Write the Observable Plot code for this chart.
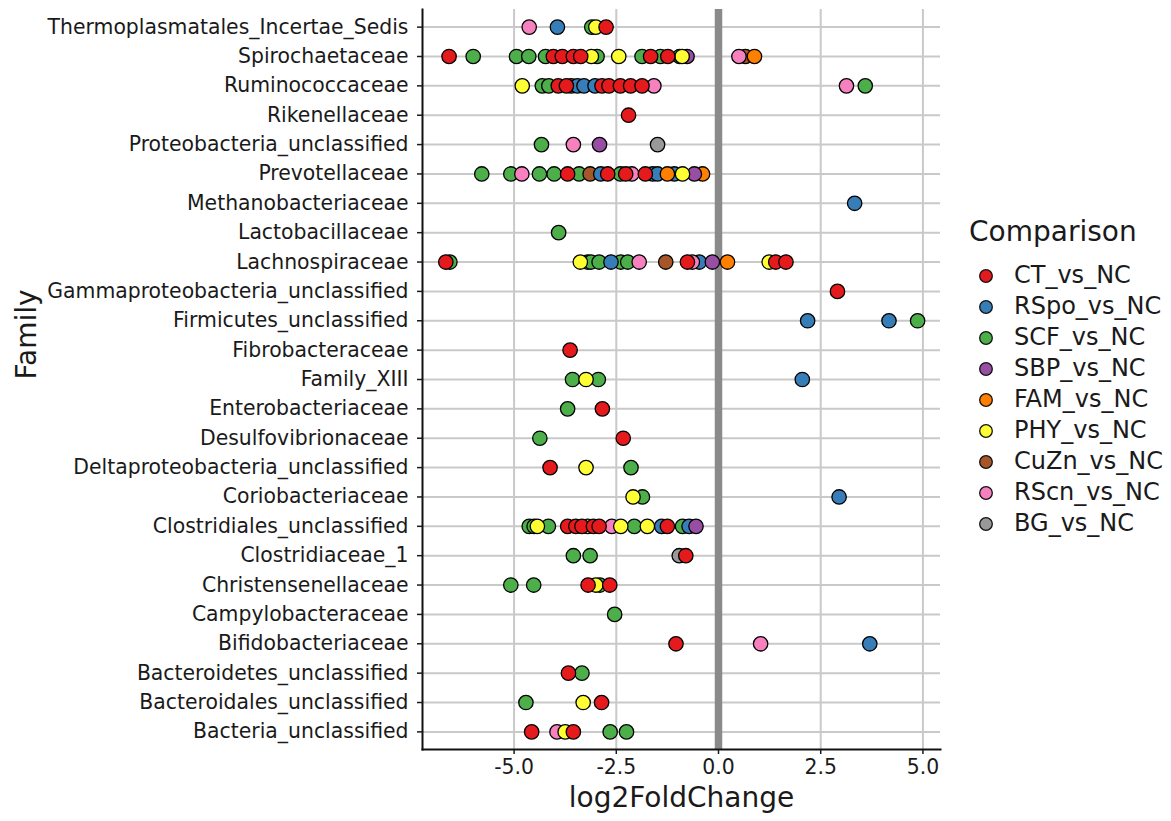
<!DOCTYPE html>
<html>
<head>
<meta charset="utf-8">
<script src="https://cdn.jsdelivr.net/npm/d3@7"></script>
<script src="https://cdn.jsdelivr.net/npm/@observablehq/plot@0.6"></script>
<style>
  body { margin: 0; background: white; font-family: "DejaVu Sans", sans-serif; }
  #wrap { position: relative; width: 1171px; height: 821px; overflow: hidden; }
  #chart { position: absolute; left: 0; top: 0; }
  #legend { position: absolute; left: 969px; top: 214px; color: #1a1a1a; }
  #legend .title { font-size: 28px; line-height: 36px; height: 36px; }
  #legend .item { position: absolute; left: 0; height: 31px; line-height: 31px; font-size: 24px; white-space: nowrap; }
  #legend .item svg { position: absolute; left: 9px; top: 8px; }
  #legend .item span { position: absolute; left: 45px; top: 0; }
</style>
</head>
<body>
<div id="wrap">
  <div id="chart"></div>
  <div id="legend"></div>
</div>
<script>
// Families (top to bottom)
const families = [
  "Thermoplasmatales_Incertae_Sedis", "Spirochaetaceae", "Ruminococcaceae", "Rikenellaceae",
  "Proteobacteria_unclassified", "Prevotellaceae", "Methanobacteriaceae", "Lactobacillaceae",
  "Lachnospiraceae", "Gammaproteobacteria_unclassified", "Firmicutes_unclassified", "Fibrobacteraceae",
  "Family_XIII", "Enterobacteriaceae", "Desulfovibrionaceae", "Deltaproteobacteria_unclassified",
  "Coriobacteriaceae", "Clostridiales_unclassified", "Clostridiaceae_1", "Christensenellaceae",
  "Campylobacteraceae", "Bifidobacteriaceae", "Bacteroidetes_unclassified", "Bacteroidales_unclassified",
  "Bacteria_unclassified"
];
const comparisons = ["CT_vs_NC", "RSpo_vs_NC", "SCF_vs_NC", "SBP_vs_NC", "FAM_vs_NC", "PHY_vs_NC", "CuZn_vs_NC", "RScn_vs_NC", "BG_vs_NC"];
const colors = ["#E41A1C", "#377EB8", "#4DAF4A", "#984EA3", "#FF7F00", "#FFFF33", "#A65628", "#F781BF", "#999999"];
const xTicks = [-5, -2.5, 0, 2.5, 5];
const xDomain = [-7.24, 5.43];

// log2FoldChange values per comparison: [family, value]
const SCF = [
  ["Thermoplasmatales_Incertae_Sedis", -3.1],
  ["Spirochaetaceae", -6.0], ["Spirochaetaceae", -4.94], ["Spirochaetaceae", -4.64], ["Spirochaetaceae", -4.23],
  ["Spirochaetaceae", -2.97], ["Spirochaetaceae", -1.87], ["Spirochaetaceae", -1.42], ["Spirochaetaceae", -0.95],
  ["Ruminococcaceae", -4.31], ["Ruminococcaceae", -4.15], ["Ruminococcaceae", 3.59],
  ["Proteobacteria_unclassified", -4.33],
  ["Prevotellaceae", -5.79], ["Prevotellaceae", -5.08], ["Prevotellaceae", -4.38], ["Prevotellaceae", -4.02],
  ["Prevotellaceae", -3.41], ["Prevotellaceae", -2.4],
  ["Lactobacillaceae", -3.91],
  ["Lachnospiraceae", -6.57], ["Lachnospiraceae", -3.2], ["Lachnospiraceae", -3.12], ["Lachnospiraceae", -2.92],
  ["Lachnospiraceae", -2.39], ["Lachnospiraceae", -2.22],
  ["Firmicutes_unclassified", 4.87],
  ["Family_XIII", -3.57], ["Family_XIII", -2.94],
  ["Enterobacteriaceae", -3.69],
  ["Desulfovibrionaceae", -4.37],
  ["Deltaproteobacteria_unclassified", -2.14],
  ["Coriobacteriaceae", -1.86],
  ["Clostridiales_unclassified", -4.63], ["Clostridiales_unclassified", -4.51], ["Clostridiales_unclassified", -4.16],
  ["Clostridiales_unclassified", -2.06], ["Clostridiales_unclassified", -0.88],
  ["Clostridiaceae_1", -3.55], ["Clostridiaceae_1", -3.14],
  ["Christensenellaceae", -5.08], ["Christensenellaceae", -4.52], ["Christensenellaceae", -2.9],
  ["Campylobacteraceae", -2.54],
  ["Bacteroidetes_unclassified", -3.34],
  ["Bacteroidales_unclassified", -4.71],
  ["Bacteria_unclassified", -2.65], ["Bacteria_unclassified", -2.25]
];
const CT = [
  ["Thermoplasmatales_Incertae_Sedis", -2.75],
  ["Spirochaetaceae", -6.59], ["Spirochaetaceae", -4.04], ["Spirochaetaceae", -3.82], ["Spirochaetaceae", -3.55],
  ["Spirochaetaceae", -3.37], ["Spirochaetaceae", -1.66], ["Spirochaetaceae", -1.24],
  ["Ruminococcaceae", -3.92], ["Ruminococcaceae", -3.72], ["Ruminococcaceae", -2.85], ["Ruminococcaceae", -2.68],
  ["Ruminococcaceae", -2.4], ["Ruminococcaceae", -2.15], ["Ruminococcaceae", -1.87],
  ["Rikenellaceae", -2.2],
  ["Prevotellaceae", -3.69], ["Prevotellaceae", -2.71], ["Prevotellaceae", -2.27], ["Prevotellaceae", -1.79],
  ["Lachnospiraceae", -6.67], ["Lachnospiraceae", -0.76], ["Lachnospiraceae", 1.4], ["Lachnospiraceae", 1.65],
  ["Gammaproteobacteria_unclassified", 2.91],
  ["Fibrobacteraceae", -3.63],
  ["Enterobacteriaceae", -2.84],
  ["Desulfovibrionaceae", -2.33],
  ["Deltaproteobacteria_unclassified", -4.12],
  ["Clostridiales_unclassified", -3.69], ["Clostridiales_unclassified", -3.49], ["Clostridiales_unclassified", -3.34],
  ["Clostridiales_unclassified", -3.06], ["Clostridiales_unclassified", -2.92], ["Clostridiales_unclassified", -1.25],
  ["Clostridiaceae_1", -0.8],
  ["Christensenellaceae", -3.19], ["Christensenellaceae", -2.66],
  ["Bifidobacteriaceae", -1.04],
  ["Bacteroidetes_unclassified", -3.67],
  ["Bacteroidales_unclassified", -2.86],
  ["Bacteria_unclassified", -4.57], ["Bacteria_unclassified", -3.55]
];
const RSpo = [
  ["Thermoplasmatales_Incertae_Sedis", -3.94],
  ["Ruminococcaceae", -3.45], ["Ruminococcaceae", -3.29], ["Ruminococcaceae", -3.02],
  ["Prevotellaceae", -2.88], ["Prevotellaceae", -1.61], ["Prevotellaceae", -1.49], ["Prevotellaceae", -1.08],
  ["Methanobacteriaceae", 3.33],
  ["Lachnospiraceae", -2.63], ["Lachnospiraceae", -0.47],
  ["Firmicutes_unclassified", 2.18], ["Firmicutes_unclassified", 4.17],
  ["Family_XIII", 2.05],
  ["Coriobacteriaceae", 2.95],
  ["Clostridiales_unclassified", -1.39], ["Clostridiales_unclassified", -0.72],
  ["Bifidobacteriaceae", 3.7]
];
const SBP = [
  ["Spirochaetaceae", -0.77],
  ["Proteobacteria_unclassified", -2.91],
  ["Prevotellaceae", -0.59],
  ["Lachnospiraceae", -0.15],
  ["Clostridiales_unclassified", -0.55]
];
const FAM = [
  ["Spirochaetaceae", 0.88],
  ["Prevotellaceae", -1.25], ["Prevotellaceae", -0.39],
  ["Lachnospiraceae", 0.22]
];
const PHY = [
  ["Thermoplasmatales_Incertae_Sedis", -3.0],
  ["Spirochaetaceae", -3.11], ["Spirochaetaceae", -2.44], ["Spirochaetaceae", -0.89],
  ["Ruminococcaceae", -4.8],
  ["Prevotellaceae", -0.88],
  ["Lachnospiraceae", -3.38], ["Lachnospiraceae", 1.24],
  ["Family_XIII", -3.24],
  ["Deltaproteobacteria_unclassified", -3.24],
  ["Coriobacteriaceae", -2.09],
  ["Clostridiales_unclassified", -4.43], ["Clostridiales_unclassified", -3.2], ["Clostridiales_unclassified", -2.39],
  ["Clostridiales_unclassified", -1.74],
  ["Christensenellaceae", -3.0],
  ["Bacteroidales_unclassified", -3.31],
  ["Bacteria_unclassified", -3.75]
];
const CuZn = [
  ["Spirochaetaceae", 0.66],
  ["Ruminococcaceae", -3.6],
  ["Prevotellaceae", -3.14],
  ["Lachnospiraceae", -1.29]
];
const RScn = [
  ["Thermoplasmatales_Incertae_Sedis", -4.63],
  ["Spirochaetaceae", 0.5],
  ["Ruminococcaceae", -1.58], ["Ruminococcaceae", 3.13],
  ["Proteobacteria_unclassified", -3.55],
  ["Prevotellaceae", -4.81], ["Prevotellaceae", -2.12],
  ["Lachnospiraceae", -1.94], ["Lachnospiraceae", -0.64],
  ["Clostridiales_unclassified", -2.61],
  ["Bifidobacteriaceae", 1.03],
  ["Bacteria_unclassified", -3.95]
];
const BG = [
  ["Proteobacteria_unclassified", -1.49],
  ["Clostridiaceae_1", -0.96]
];

const seriesByComparison = {
  "CT_vs_NC": CT, "RSpo_vs_NC": RSpo, "SCF_vs_NC": SCF, "SBP_vs_NC": SBP, "FAM_vs_NC": FAM,
  "PHY_vs_NC": PHY, "CuZn_vs_NC": CuZn, "RScn_vs_NC": RScn, "BG_vs_NC": BG
};
const drawOrder = ["SCF_vs_NC", "BG_vs_NC", "CuZn_vs_NC", "RSpo_vs_NC", "FAM_vs_NC", "SBP_vs_NC", "RScn_vs_NC", "PHY_vs_NC", "CT_vs_NC"];
const data = drawOrder.flatMap(c => seriesByComparison[c].map(([family, lfc]) => ({family, lfc, comparison: c})));

const fmt = d => d.toFixed(1);

const chart = Plot.plot({
  width: 945,
  height: 821,
  marginLeft: 422,
  marginRight: 5,
  marginTop: 9,
  marginBottom: 72,
  style: {fontFamily: "DejaVu Sans, sans-serif", fontSize: "20.4px", color: "#1a1a1a", background: "white"},
  x: {domain: xDomain},
  y: {type: "point", domain: families, padding: 0.6, round: false},
  color: {domain: comparisons, range: colors},
  marks: [
    Plot.gridX(xTicks, {stroke: "#c9c9c9", strokeOpacity: 1, strokeWidth: 2}),
    Plot.gridY(families, {stroke: "#c9c9c9", strokeOpacity: 1, strokeWidth: 2}),
    Plot.ruleX([0], {stroke: "#8a8a8a", strokeWidth: 7.5}),
    Plot.dot(data, {x: "lfc", y: "family", fill: "comparison", stroke: "black", strokeWidth: 1.3, r: 7.2}),
    Plot.frame({anchor: "left", stroke: "#111", strokeWidth: 2}),
    Plot.frame({anchor: "bottom", stroke: "#111", strokeWidth: 2}),
    Plot.axisX(xTicks, {tickSize: 5, tickPadding: 5, tickFormat: fmt, fontSize: 20.4, label: null, strokeWidth: 1.5}),
    Plot.axisY(families, {tickSize: 5, tickPadding: 9, fontSize: 20.4, label: null, strokeWidth: 1.5}),
    Plot.text(["Family"], {frameAnchor: "left", rotate: -90, dx: -395, fontSize: 28, fill: "#1a1a1a"}),
    Plot.text(["log2FoldChange"], {frameAnchor: "bottom", dy: 57, fontSize: 28, fill: "#1a1a1a"})
  ]
});
document.getElementById("chart").appendChild(chart);

// Legend built from the same comparisons/colors arrays
const legend = document.getElementById("legend");
const title = document.createElement("div");
title.className = "title";
title.textContent = "Comparison";
legend.appendChild(title);
comparisons.forEach((c, i) => {
  const item = document.createElement("div");
  item.className = "item";
  item.style.top = (45.5 + i * 31) + "px";
  item.innerHTML = `<svg width="16" height="16"><circle cx="8" cy="8" r="6.3" fill="${colors[i]}" stroke="#111" stroke-width="1.3"></circle></svg><span>${c}</span>`;
  legend.appendChild(item);
});
</script>
</body>
</html>
